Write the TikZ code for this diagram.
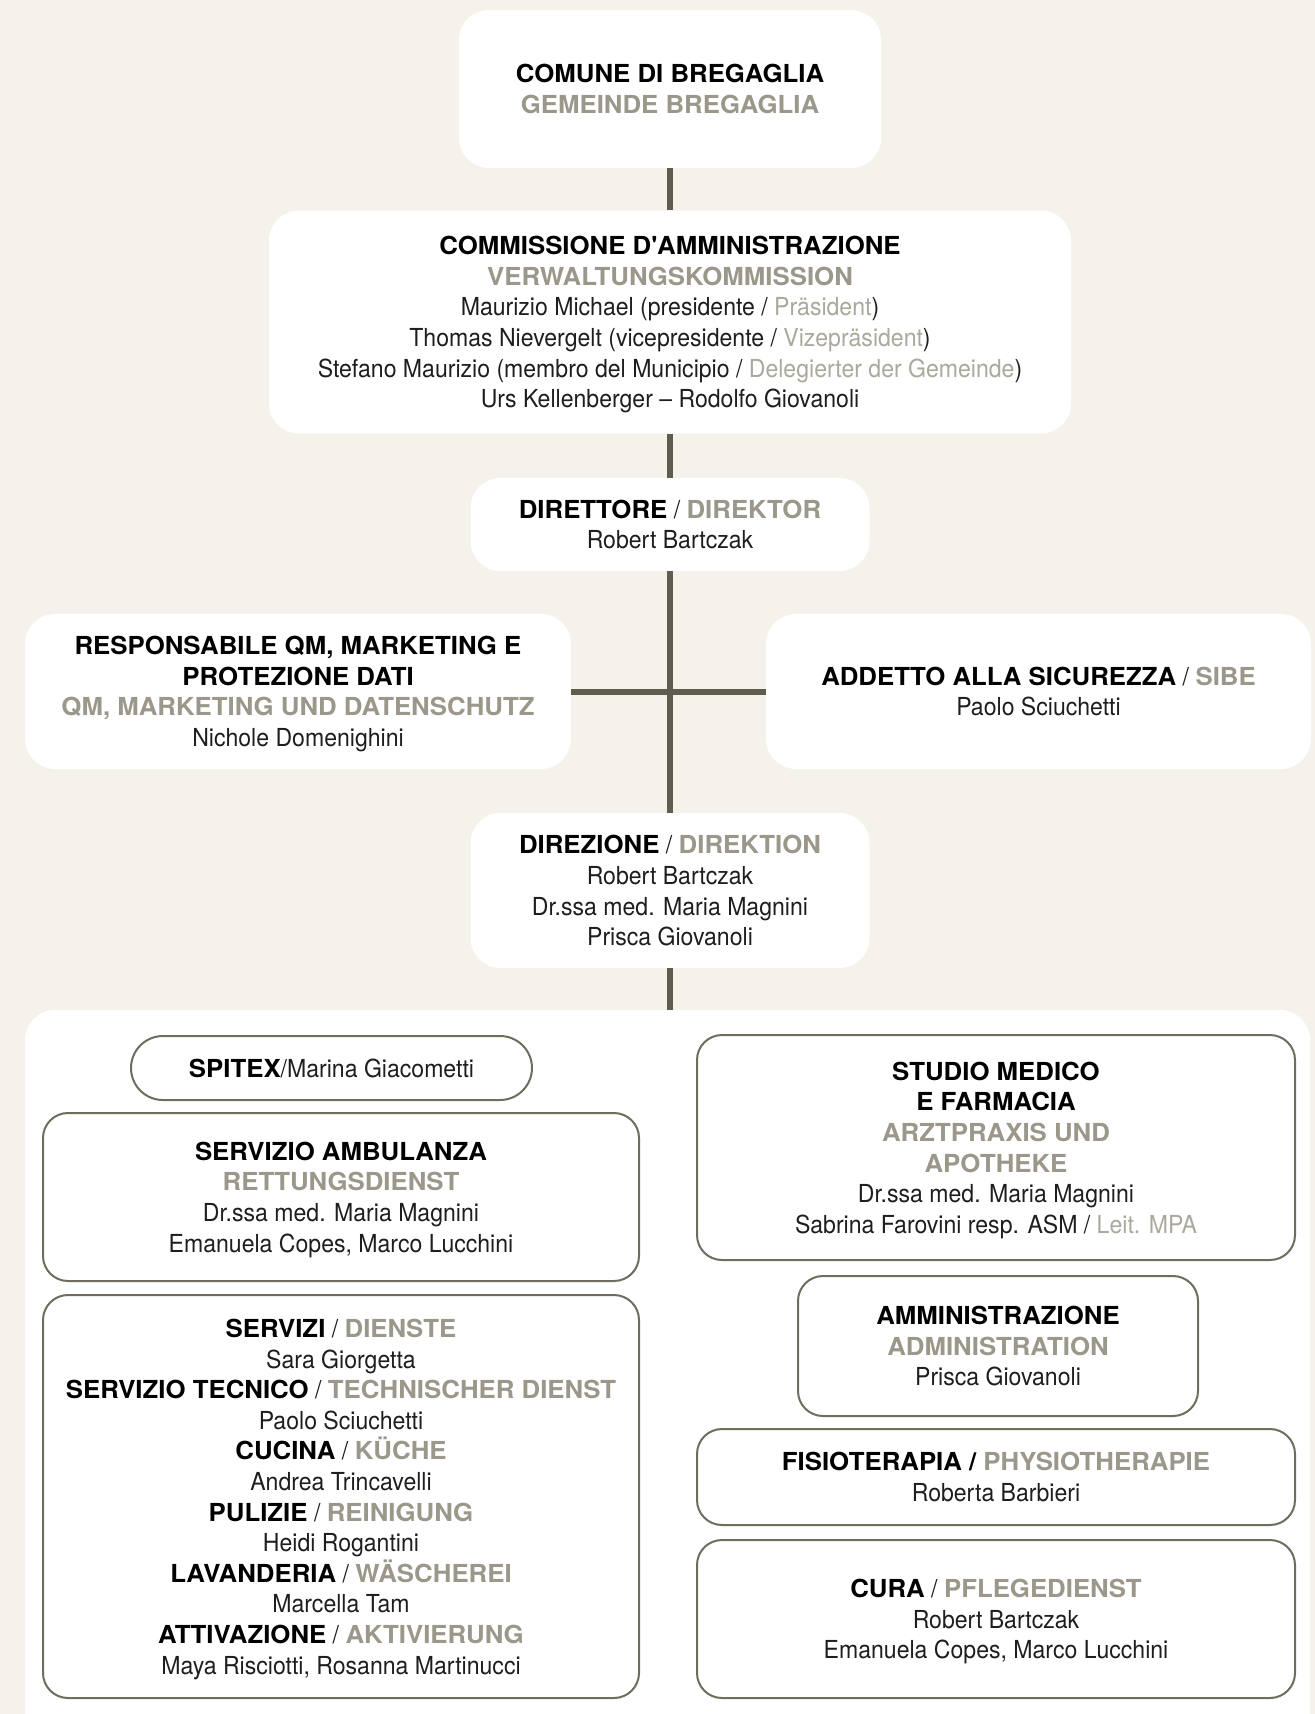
\documentclass[tikz,border=0pt]{standalone}
\usepackage{fontspec}
\setmainfont{TeX Gyre Heros}[BoldFeatures={FakeStretch=1.04}]
\newfontfamily\namefont[FakeStretch=0.93]{TeX Gyre Heros}
\usepackage{tikz}
\usetikzlibrary{positioning}
\definecolor{cream}{HTML}{F5F2EB}
\definecolor{greytext}{HTML}{9B978A}
\definecolor{lightgrey}{HTML}{ABA89C}
\definecolor{trunk}{HTML}{5E5D4E}
\definecolor{rim}{HTML}{6E6D5E}
\definecolor{ink}{HTML}{1E1E1E}
\newcommand{\hd}[1]{{\rmfamily\bfseries\color{black}#1}}
\newcommand{\de}[1]{{\rmfamily\bfseries\color{greytext}#1}}
\newcommand{\dl}[1]{\textcolor{lightgrey}{#1}}
\tikzset{
  unit/.style={fill=white, rounded corners=15pt, align=center, inner sep=0pt, text=ink,
    font=\fontsize{12.4pt}{15.3pt}\selectfont\namefont, text depth=-2pt},
  office/.style={unit, draw=rim, line width=1pt, rounded corners=12.5pt},
  link/.style={draw=trunk, line width=3pt},
}
\begin{document}
\begin{tikzpicture}[x=0.5pt,y=-0.5pt]
\fill[cream] (0,0) rectangle (1315,1714);
\useasboundingbox (0,0) rectangle (1315,1714);
\clip (0,0) rectangle (1315,1714);
\coordinate (C) at (670,89);
\coordinate (K) at (670,322);
\coordinate (D) at (670,524.5);
\coordinate (Q) at (298,691.5);
\coordinate (S) at (1038.5,691.5);
\coordinate (Z) at (670,890.5);
\coordinate (P) at (667.5,1385);
\node[unit, minimum width=211pt, minimum height=79pt] (comune) at (C)
  {\hd{COMUNE DI BREGAGLIA}\\\de{GEMEINDE BREGAGLIA}};
\node[unit, minimum width=401pt, minimum height=111.5pt] (commissione) at (K)
  {\hd{COMMISSIONE D\textquotesingle AMMINISTRAZIONE}\\\de{VERWALTUNGSKOMMISSION}\\
   Maurizio Michael (presidente / \dl{Präsident})\\
   Thomas Nievergelt (vicepresidente / \dl{Vizepräsident})\\
   Stefano Maurizio (membro del Municipio / \dl{Delegierter der Gemeinde})\\
   Urs Kellenberger – Rodolfo Giovanoli};
\node[unit, minimum width=199.5pt, minimum height=46.5pt] (direttore) at (D)
  {\hd{DIRETTORE} / \de{DIREKTOR}\\Robert Bartczak};
\node[unit, minimum width=273pt, minimum height=77.5pt] (qm) at (Q)
  {\hd{RESPONSABILE QM, MARKETING E}\\\hd{PROTEZIONE DATI}\\
   \de{QM, MARKETING UND DATENSCHUTZ}\\Nichole Domenighini};
\node[unit, minimum width=272.5pt, minimum height=77.5pt] (sibe) at (S)
  {\hd{ADDETTO ALLA SICUREZZA} / \de{SIBE}\\Paolo Sciuchetti};
\node[unit, minimum width=199.5pt, minimum height=77.5pt] (direzione) at (Z)
  {\hd{DIREZIONE} / \de{DIREKTION}\\Robert Bartczak\\Dr.ssa med. Maria Magnini\\Prisca Giovanoli};
\node[unit, minimum width=642.5pt, minimum height=375pt] (panel) at (P) {};
\draw[link] (comune) -- (commissione);
\draw[link] (commissione) -- (direttore);
\draw[link] (direttore) -- (direzione);
\draw[link] (qm) -- (sibe);
\draw[link] (direzione) -- (direzione |- panel.north);
\node[office, rounded corners=16pt, minimum width=200.5pt, minimum height=32pt] (spitex) at (331.5,1068)
  {\hd{SPITEX}/Marina Giacometti};
\node[office, minimum width=298pt, minimum height=84pt] (ambulanza) at (341,1197)
  {\hd{SERVIZIO AMBULANZA}\\\de{RETTUNGSDIENST}\\Dr.ssa med. Maria Magnini\\Emanuela Copes, Marco Lucchini};
\node[office, minimum width=298pt, minimum height=201.5pt] (servizi) at (341,1496.5)
  {\hd{SERVIZI} / \de{DIENSTE}\\Sara Giorgetta\\
   \hd{SERVIZIO TECNICO} / \de{TECHNISCHER DIENST}\\Paolo Sciuchetti\\
   \hd{CUCINA} / \de{KÜCHE}\\Andrea Trincavelli\\
   \hd{PULIZIE} / \de{REINIGUNG}\\Heidi Rogantini\\
   \hd{LAVANDERIA} / \de{WÄSCHEREI}\\Marcella Tam\\
   \hd{ATTIVAZIONE} / \de{AKTIVIERUNG}\\Maya Risciotti, Rosanna Martinucci};
\node[office, minimum width=299pt, minimum height=112.5pt] (studio) at (996,1147.5)
  {\hd{STUDIO MEDICO}\\\hd{E FARMACIA}\\\de{ARZTPRAXIS UND}\\\de{APOTHEKE}\\
   Dr.ssa med. Maria Magnini\\Sabrina Farovini resp. ASM / \dl{Leit. MPA}};
\node[office, minimum width=200pt, minimum height=70pt] (amministrazione) at (998,1346)
  {\hd{AMMINISTRAZIONE}\\\de{ADMINISTRATION}\\Prisca Giovanoli};
\node[office, minimum width=299pt, minimum height=48pt] (fisioterapia) at (996,1477)
  {\hd{FISIOTERAPIA / }\de{PHYSIOTHERAPIE}\\Roberta Barbieri};
\node[office, minimum width=299pt, minimum height=79pt] (cura) at (996,1619)
  {\hd{CURA} / \de{PFLEGEDIENST}\\Robert Bartczak\\Emanuela Copes, Marco Lucchini};
\end{tikzpicture}
\end{document}
